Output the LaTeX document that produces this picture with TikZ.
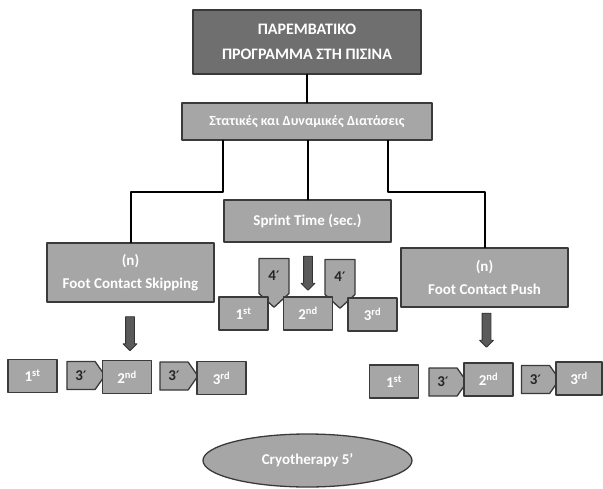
\documentclass[tikz,border=0pt]{standalone}
\usepackage{fontspec}
\setmainfont{Carlito}
\newfontfamily\primefont{DejaVu Sans}
\usetikzlibrary{positioning}
\usetikzlibrary{shapes}
\usetikzlibrary{shapes.arrows}
\usetikzlibrary{shapes.symbols}
\definecolor{boxgray}{HTML}{A6A6A6}
\definecolor{topgray}{HTML}{6F6F6F}
\definecolor{edgegray}{HTML}{3A3A3A}
\definecolor{arrowgray}{HTML}{5A5A5A}
\newcommand{\mins}[1]{#1{\primefont\fontsize{13}{16}\selectfont ′}}

\begin{document}
\begin{tikzpicture}[x=1pt,y=-1pt,line cap=round,line join=round,
  box/.style={draw=edgegray,line width=1.3pt,fill=boxgray,text=white,font=\bfseries\fontsize{15}{23}\selectfont,inner sep=0pt,align=center},
  topbox/.style={box,fill=topgray,font=\bfseries\fontsize{16}{25}\selectfont},
  ordbox/.style={box,minimum width=49pt,minimum height=33pt},
  pausebox/.style={draw=edgegray,line width=1.3pt,fill=boxgray,text=black!85,font=\bfseries\fontsize{15}{18}\selectfont,signal,inner sep=0pt},
  pauseright/.style={pausebox,signal to=east,signal pointer angle=110,minimum width=38pt,minimum height=28pt},
  pausedown/.style={pausebox,signal to=south,signal pointer angle=95,minimum width=30pt,minimum height=40pt},
  downarrow/.style={single arrow,shape border rotate=270,draw=black!80,line width=0.8pt,fill=arrowgray,minimum height=34pt,minimum width=13pt,single arrow head extend=2.5pt,inner sep=4pt},
  link/.style={draw=black,line width=2pt}]
\useasboundingbox (0,0) rectangle (603,488);

% main boxes
\node[topbox,minimum width=228pt,minimum height=64pt] (top) at (307,42) {ΠΑΡΕΜΒΑΤΙΚΟ\\ΠΡΟΓΡΑΜΜΑ ΣΤΗ ΠΙΣΙΝΑ};
\node[box,minimum width=250pt,minimum height=37pt,font=\bfseries\fontsize{14}{18}\selectfont] (stat) at (307,121.5) {Στατικές και Δυναμικές Διατάσεις};
\node[box,minimum width=167pt,minimum height=42pt] (sprint) at (307.5,221) {Sprint Time (sec.)};
\node[box,minimum width=167pt,minimum height=59pt] (fcs) at (130.5,272.5) {(n)\\Foot Contact Skipping};
\node[box,minimum width=167pt,minimum height=59pt] (fcp) at (484.5,277.5) {(n)\\Foot Contact Push};

% connectors
\coordinate (jl) at (223,192);
\coordinate (jr) at (388,192);
\draw[link] (top) -- (stat);
\draw[link] (stat.south -| jl) -- (jl) -| (fcs.north);
\draw[link] (stat.south -| sprint.north) -- (sprint.north);
\draw[link] (stat.south -| jr) -- (jr) -| (fcp.north);

% sprint repetitions
\node[pausedown] (sp1) at (274,276) {\mins{4}};
\node[downarrow] (sarrow) at (308,271) {};
\node[pausedown] (sp2) at (340,277) {\mins{4}};
\node[ordbox] (s1) at (243.5,313.5) {1\textsuperscript{st}};
\node[ordbox] (s2) at (308,313.5) {2\textsuperscript{nd}};
\node[ordbox] (s3) at (372.5,314.5) {3\textsuperscript{rd}};

% skipping repetitions
\node[downarrow] (larrow) at (130,331.5) {};
\node[ordbox] (l1) at (32.5,376) {1\textsuperscript{st}};
\node[pauseright] (lp1) at (81,375.5) {\mins{3}};
\node[ordbox] (l2) at (127,377) {2\textsuperscript{nd}};
\node[pauseright] (lp2) at (174,376) {\mins{3}};
\node[ordbox] (l3) at (221.5,378) {3\textsuperscript{rd}};

% push repetitions
\node[downarrow] (rarrow) at (486.5,328) {};
\node[ordbox] (r1) at (394,381.5) {1\textsuperscript{st}};
\node[pauseright] (rp1) at (443,382) {\mins{3}};
\node[ordbox] (r2) at (488.5,379.5) {2\textsuperscript{nd}};
\node[pauseright] (rp2) at (535.5,379.5) {\mins{3}};
\node[ordbox,minimum width=46pt] (r3) at (579,378.5) {3\textsuperscript{rd}};

% recovery
\node[box,ellipse,minimum width=209pt,minimum height=53pt] (cryo) at (307.5,460.5) {Cryotherapy 5’};
\end{tikzpicture}
\end{document}
